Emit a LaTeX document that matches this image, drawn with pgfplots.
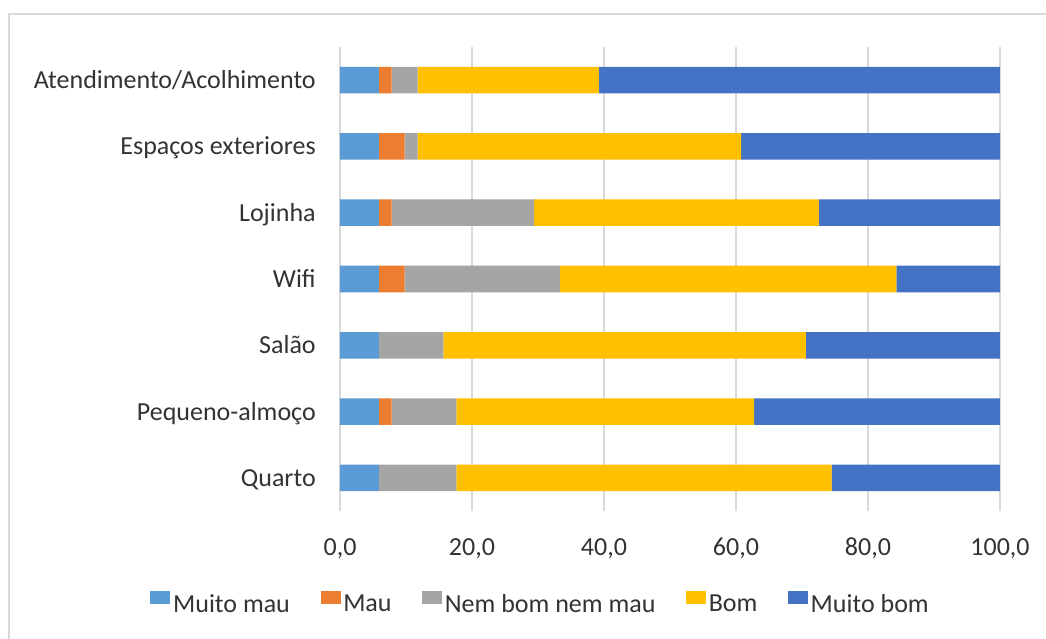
\documentclass[border=0pt]{standalone}
\usepackage{pgfplots}
\pgfplotsset{compat=1.18}
\usepackage{pgfplotstable}
\usepackage{fontspec}
\setmainfont{Carlito}
\definecolor{cMM}{HTML}{5B9BD5}
\definecolor{cMau}{HTML}{ED7D31}
\definecolor{cNem}{HTML}{A5A5A5}
\definecolor{cBom}{HTML}{FFC000}
\definecolor{cMB}{HTML}{4472C4}
\definecolor{cGrid}{HTML}{D9D9D9}
\definecolor{cBorder}{HTML}{D9D9D9}
\definecolor{cText}{HTML}{333333}
\pgfplotstableread{
y mm mau nem bom mb
0 5.88 0.00 11.76 56.86 25.49
1 5.88 1.96 9.80 45.10 37.25
2 5.88 0.00 9.80 54.90 29.41
3 5.88 3.92 23.53 50.98 15.69
4 5.88 1.96 21.57 43.14 27.45
5 5.88 3.92 1.96 49.02 39.22
6 5.88 1.96 3.92 27.45 60.78
}\data
\begin{document}
\begin{tikzpicture}
\useasboundingbox (0,0) rectangle (784.5pt,479.25pt);
\fill[white] (0,0) rectangle (784.5pt,479.25pt);
\draw[color=cBorder, line width=2pt] (6.75pt,-2pt) -- (6.75pt,468.75pt) -- (790pt,468.75pt);
\begin{axis}[
  at={(255pt,96pt)}, anchor=south west,
  scale only axis, width=495pt, height=348pt,
  xbar stacked, bar width=0.4,
  xmin=0, xmax=100, ymin=-0.5, ymax=6.5,
  xtick={0,20,...,100}, ytick={0,...,6},
  yticklabels={Quarto, Pequeno-almoço, Salão, Wifi, Lojinha, Espaços exteriores, Atendimento/Acolhimento},
  xmajorgrids, grid style={color=cGrid, line width=1pt},
  axis line style={draw=none},
  major tick length=0pt,
  tick label style={font=\fontsize{19.5}{23}\selectfont, text=cText},
  xticklabel style={anchor=base, yshift=-33.75pt, inner sep=0pt},
  yticklabel style={anchor=base east, xshift=-18pt, yshift=-6.4pt, inner sep=0pt},
  x tick label style={/pgf/number format/.cd, fixed, fixed zerofill, precision=1, use comma, assume math mode=true},
  legend columns=-1,
  legend style={at={(0.3045,-0.2004)}, anchor=center, draw=none, fill=none,
    font=\fontsize{19.5}{23}\selectfont, text=cText,
    /tikz/every even column/.append style={column sep=21pt}},
  legend image code/.code={\path (0pt,0pt) rectangle (15pt,10pt);\fill[#1] (0pt,0pt) rectangle (10pt,10pt);},
]
\addplot[fill=cMM, draw=none] table[x=mm, y=y] {\data};
\addplot[fill=cMau, draw=none] table[x=mau, y=y] {\data};
\addplot[fill=cNem, draw=none] table[x=nem, y=y] {\data};
\addplot[fill=cBom, draw=none] table[x=bom, y=y] {\data};
\addplot[fill=cMB, draw=none] table[x=mb, y=y] {\data};
\legend{Muito mau, Mau, Nem bom nem mau, Bom, Muito bom}
\end{axis}
\end{tikzpicture}
\end{document}
